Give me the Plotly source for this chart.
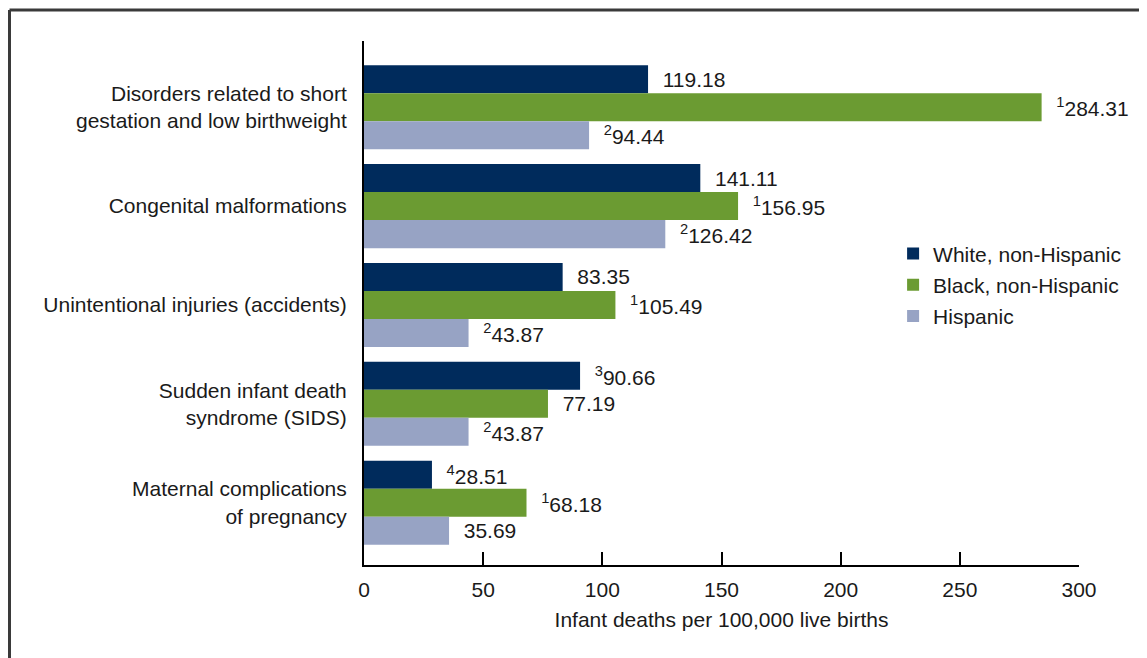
import plotly.graph_objects as go

categories = [
    "Disorders related to short<br>gestation and low birthweight",
    "Congenital malformations",
    "Unintentional injuries (accidents)",
    "Sudden infant death<br>syndrome (SIDS)",
    "Maternal complications<br>of pregnancy",
]
series_names = ["White, non-Hispanic", "Black, non-Hispanic", "Hispanic"]
white = [119.18, 141.11, 83.35, 90.66, 28.51]
black = [284.31, 156.95, 105.49, 77.19, 68.18]
hispanic = [94.44, 126.42, 43.87, 43.87, 35.69]
white_notes = ["", "", "", "3", "4"]
black_notes = ["1", "1", "1", "", "1"]
hispanic_notes = ["2", "2", "2", "2", ""]
colors = ["#002B5C", "#6B9B32", "#97A3C4"]
x_ticks = [0, 50, 100, 150, 200, 250, 300]

FONT = "Liberation Sans, Arial, sans-serif"
FS = 21

def labels(vals, notes):
    out = []
    for v, n in zip(vals, notes):
        sup = f"<sup>{n}</sup>" if n else ""
        out.append("\u00a0\u00a0" + sup + f"{v:.2f}")
    return out

fig = go.Figure()
for i, (name, vals, notes) in enumerate(zip(series_names, [white, black, hispanic],
                                             [white_notes, black_notes, hispanic_notes])):
    fig.add_trace(go.Bar(
        y=categories, x=vals, name=name, orientation="h",
        marker=dict(color=colors[i], line=dict(width=0)),
        text=labels(vals, notes), textposition="outside",
        textfont=dict(family=FONT, size=FS, color="#1a1a1a"),
        cliponaxis=False, constraintext="none",
        legendgroup=name, hoverinfo="x+name",
    ))

fig.update_layout(
    width=1147, height=658,
    margin=dict(l=356, r=76, t=33, b=101),
    barmode="group", bargap=0.15, bargroupgap=0,
    paper_bgcolor="white", plot_bgcolor="white",
    font=dict(family=FONT, size=FS, color="#1a1a1a"),
    showlegend=True,
    legend=dict(x=0.74, y=0.633, xanchor="left", yanchor="top",
                font=dict(family=FONT, size=FS, color="#1a1a1a"),
                tracegroupgap=1, bgcolor="rgba(0,0,0,0)"),
    xaxis=dict(range=[0, 300], tickvals=x_ticks, ticks="inside", ticklen=13,
               tickwidth=2, tickcolor="black", showline=True, linecolor="black",
               linewidth=2, showgrid=False, zeroline=False, ticklabelstandoff=5,
               title=dict(text="Infant deaths per 100,000 live births",
                          font=dict(family=FONT, size=FS), standoff=12),
               tickfont=dict(family=FONT, size=FS)),
    yaxis=dict(type="category", categoryarray=categories, range=[4.63, -0.67],
               showline=True, linecolor="black", linewidth=2, showgrid=False,
               ticks="", ticklabelstandoff=11, tickfont=dict(family=FONT, size=FS)),
)

fig.add_shape(type="line", xref="paper", yref="paper",
              x0=-0.4958, x1=1.12, y0=1.059, y1=1.059,
              line=dict(color="#3a3a3a", width=3))
fig.add_shape(type="line", xref="paper", yref="paper",
              x0=-0.4958, x1=-0.4958, y0=1.059, y1=-0.25,
              line=dict(color="#3a3a3a", width=3))

fig.write_html("out.html")
